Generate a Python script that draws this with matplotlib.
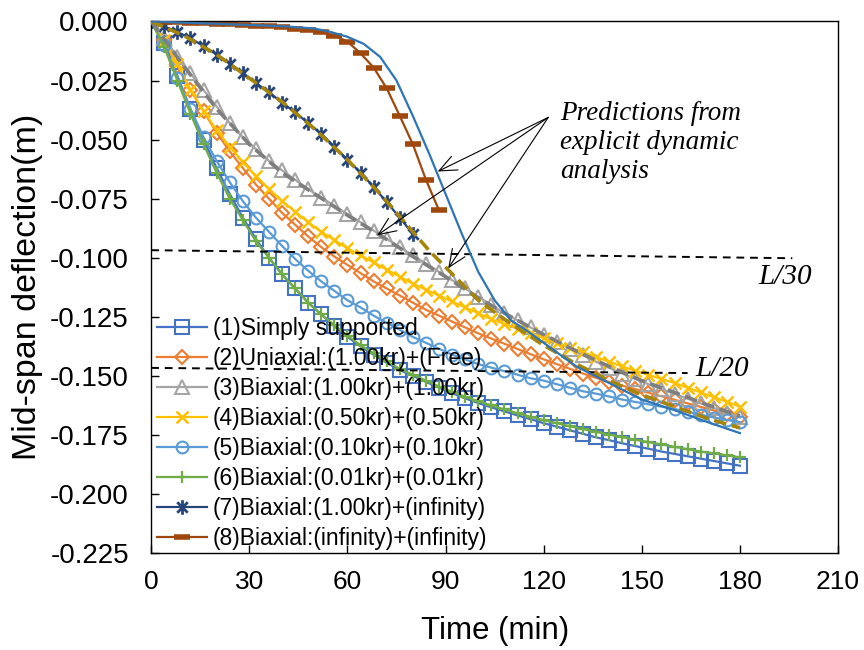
import matplotlib
matplotlib.use("Agg")
import matplotlib.pyplot as plt
from matplotlib.path import Path
from matplotlib.ticker import FormatStrFormatter

plt.rcParams['font.family'] = ['Liberation Sans', 'DejaVu Sans']
plt.rcParams['axes.unicode_minus'] = False

# ---- data -------------------------------------------------------------
TIME = [0, 4, 8, 12, 16, 20, 24, 28, 32, 36, 40, 44, 48, 52, 56, 60, 64, 68,
        72, 76, 80, 84, 88, 92, 96, 100, 104, 108, 112, 116, 120, 124, 128,
        132, 136, 140, 144, 148, 152, 156, 160, 164, 168, 172, 176, 180]

simply_supported = [0, -0.009, -0.023, -0.037, -0.050, -0.062, -0.073, -0.083, -0.092, -0.100,
                    -0.107, -0.113, -0.119, -0.124, -0.129, -0.1335, -0.1375, -0.141, -0.1445,
                    -0.1475, -0.150, -0.1525, -0.155, -0.1573, -0.1595, -0.1615, -0.1633, -0.165,
                    -0.1667, -0.1683, -0.170, -0.1715, -0.173, -0.1745, -0.176, -0.1772, -0.1785,
                    -0.1797, -0.1808, -0.182, -0.183, -0.184, -0.185, -0.186, -0.187, -0.188]

uniaxial_1 = [0, -0.008, -0.019, -0.029, -0.038, -0.047, -0.055, -0.062, -0.069, -0.075,
              -0.081, -0.086, -0.091, -0.0955, -0.0995, -0.103, -0.1065, -0.110, -0.113,
              -0.116, -0.119, -0.122, -0.1245, -0.127, -0.1295, -0.132, -0.1342, -0.1364,
              -0.1386, -0.1408, -0.143, -0.145, -0.147, -0.149, -0.1508, -0.1526, -0.1541,
              -0.1556, -0.1571, -0.1586, -0.1601, -0.1616, -0.1631, -0.1646, -0.1661, -0.1675]

biaxial_100 = [0, -0.007, -0.015, -0.022, -0.029, -0.036, -0.043, -0.049, -0.054, -0.059,
               -0.063, -0.067, -0.071, -0.0745, -0.078, -0.0815, -0.085, -0.0885, -0.092,
               -0.0955, -0.099, -0.1025, -0.106, -0.1095, -0.113, -0.1165, -0.120, -0.1235,
               -0.1265, -0.1295, -0.1325, -0.1355, -0.1385, -0.1413, -0.144, -0.1466, -0.149,
               -0.1513, -0.1535, -0.1556, -0.1576, -0.1596, -0.1616, -0.1636, -0.1656, -0.1675]

biaxial_050 = [0, -0.008, -0.018, -0.029, -0.038, -0.046, -0.053, -0.0595, -0.0655, -0.071,
               -0.076, -0.0805, -0.085, -0.089, -0.0925, -0.096, -0.099, -0.102, -0.105,
               -0.108, -0.111, -0.1135, -0.116, -0.1185, -0.121, -0.1235, -0.126, -0.128,
               -0.130, -0.132, -0.134, -0.136, -0.138, -0.140, -0.142, -0.144, -0.146,
               -0.1478, -0.1496, -0.1513, -0.153, -0.155, -0.157, -0.159, -0.161, -0.163]

biaxial_010 = [0, -0.010, -0.024, -0.037, -0.049, -0.059, -0.068, -0.076, -0.083, -0.089,
               -0.095, -0.1005, -0.1055, -0.110, -0.114, -0.118, -0.121, -0.1245, -0.1275,
               -0.1305, -0.1335, -0.136, -0.1385, -0.141, -0.143, -0.145, -0.1465, -0.148,
               -0.1495, -0.151, -0.152, -0.1535, -0.155, -0.1565, -0.1575, -0.1587, -0.160,
               -0.161, -0.162, -0.163, -0.164, -0.1652, -0.1664, -0.1676, -0.1686, -0.1696]

biaxial_001 = [0, -0.011, -0.025, -0.039, -0.052, -0.064, -0.075, -0.084, -0.093, -0.100,
               -0.107, -0.113, -0.119, -0.124, -0.1285, -0.133, -0.137, -0.1405, -0.1438,
               -0.147, -0.1495, -0.152, -0.1545, -0.1567, -0.1588, -0.1607, -0.1625, -0.1642,
               -0.1658, -0.1673, -0.1687, -0.170, -0.1713, -0.1725, -0.1737, -0.1748, -0.1759,
               -0.177, -0.178, -0.179, -0.180, -0.181, -0.182, -0.1828, -0.1836, -0.1845]

TIME_7 = [0, 4, 8, 12, 16, 20, 24, 28, 32, 36, 40, 44, 48, 52, 56, 60, 64, 68, 72, 76, 80]
biaxial_100_inf = [0, -0.002, -0.0045, -0.007, -0.0105, -0.014, -0.0178, -0.0218, -0.026,
                   -0.030, -0.0343, -0.0385, -0.043, -0.0476, -0.053, -0.0585, -0.064, -0.070,
                   -0.0765, -0.083, -0.090]

TIME_8 = [0, 4, 8, 12, 16, 20, 24, 28, 32, 36, 40, 44, 48, 52, 56, 60, 64, 68, 72, 76,
          80, 84, 88]
biaxial_inf_inf = [0, -0.0002, -0.0004, -0.0006, -0.0008, -0.001, -0.0012, -0.0015, -0.0018,
                   -0.0021, -0.0025, -0.003, -0.0036, -0.0045, -0.006, -0.0085, -0.0135,
                   -0.0195, -0.0283, -0.040, -0.052, -0.067, -0.080]

# explicit dynamic analysis results
TIME_ED_INF = [0, 10, 20, 30, 40, 50, 55, 60, 65, 70, 75, 80, 85, 90, 95, 100, 105, 110,
               115, 120, 130, 140, 150, 160, 170, 180]
ed_inf_inf = [0, -0.0005, -0.001, -0.0015, -0.002, -0.003, -0.0045, -0.0065, -0.0095, -0.015,
              -0.025, -0.040, -0.056, -0.073, -0.090, -0.106, -0.118, -0.1265, -0.131, -0.136,
              -0.146, -0.153, -0.160, -0.1645, -0.1695, -0.1742]

TIME_ED_100 = [0, 10, 20, 30, 40, 50, 60, 70, 80, 90, 100, 110, 120, 130, 140, 150, 160, 170, 180]
ed_100_100 = [0, -0.019, -0.037, -0.052, -0.064, -0.073, -0.082, -0.0905, -0.0995, -0.108,
              -0.117, -0.125, -0.1325, -0.1395, -0.146, -0.152, -0.157, -0.1622, -0.167]

TIME_ED_7 = [0, 10, 20, 30, 40, 50, 60, 70, 80, 85, 90, 95, 100, 110, 120, 130, 140, 150,
             160, 170, 180]
ed_100_inf = [0, -0.006, -0.014, -0.024, -0.034, -0.0455, -0.0585, -0.073, -0.089, -0.097,
              -0.104, -0.111, -0.118, -0.128, -0.137, -0.145, -0.152, -0.158, -0.163, -0.168,
              -0.172]

LABELS = ["(1)Simply supported",
          "(2)Uniaxial:(1.00kr)+(Free)",
          "(3)Biaxial:(1.00kr)+(1.00kr)",
          "(4)Biaxial:(0.50kr)+(0.50kr)",
          "(5)Biaxial:(0.10kr)+(0.10kr)",
          "(6)Biaxial:(0.01kr)+(0.01kr)",
          "(7)Biaxial:(1.00kr)+(infinity)",
          "(8)Biaxial:(infinity)+(infinity)"]

X_TICKS = [0, 30, 60, 90, 120, 150, 180, 210]
Y_TICKS = [0.0, -0.025, -0.05, -0.075, -0.1, -0.125, -0.15, -0.175, -0.2, -0.225]

# deflection limits (span/30 and span/20)
L30_X = [0, 196]
L30_Y = [-0.0968, -0.1002]
L20_X = [0, 164]
L20_Y = [-0.1466, -0.1488]

# ---- figure -----------------------------------------------------------
fig = plt.figure(figsize=(8.64, 6.5), dpi=100)
ax = fig.add_axes([0.175, 0.149, 0.795, 0.818])

star = Path([(0, -1), (0, 1), (-0.72, -0.72), (0.72, 0.72), (-0.72, 0.72), (0.72, -0.72)],
            [Path.MOVETO, Path.LINETO] * 3)

lw = 1.6
ax.plot(TIME, simply_supported, color='#4472C4', lw=lw, marker='s', ms=9.5,
        mfc='none', mec='#4472C4', mew=1.5, label=LABELS[0])
ax.plot(TIME, uniaxial_1, color='#ED7D31', lw=lw, marker='D', ms=7,
        mfc='none', mec='#ED7D31', mew=1.5, label=LABELS[1])
ax.plot(TIME, biaxial_100, color='#A5A5A5', lw=lw, marker='^', ms=9.5,
        mfc='none', mec='#A5A5A5', mew=1.5, label=LABELS[2])
ax.plot(TIME, biaxial_050, color='#FFC000', lw=lw, marker='x', ms=9,
        mec='#FFC000', mew=1.8, label=LABELS[3])
ax.plot(TIME, biaxial_010, color='#5B9BD5', lw=lw, marker='o', ms=8.5,
        mfc='none', mec='#5B9BD5', mew=1.5, label=LABELS[4])
ax.plot(TIME, biaxial_001, color='#70AD47', lw=lw, marker='+', ms=9,
        mec='#70AD47', mew=1.6, label=LABELS[5])
ax.plot(TIME_7, biaxial_100_inf, color='#264478', lw=lw, marker=star, ms=10.5,
        mec='#264478', mew=2.0, label=LABELS[6])
ax.plot(TIME_8, biaxial_inf_inf, color='#9E480E', lw=lw, marker='_', ms=11,
        mec='#9E480E', mew=4.0, label=LABELS[7])

ax.plot(TIME_ED_100, ed_100_100, color='#7F7F7F', lw=2.6, ls=(0, (3.5, 1.6)), zorder=3)
ax.plot(TIME_ED_7, ed_100_inf, color='#A5850A', lw=2.6, ls=(0, (3.5, 1.6)), zorder=3)
ax.plot(TIME_ED_INF, ed_inf_inf, color='#2E75B6', lw=1.6, zorder=3)

ax.plot(L30_X, L30_Y, color='black', lw=1.4, ls=(0, (4, 3)), clip_on=False)
ax.plot(L20_X, L20_Y, color='black', lw=1.4, ls=(0, (4, 3)), clip_on=False)

serif = ['Liberation Serif', 'DejaVu Serif']
ax.text(185.5, -0.1083, "L/30", family=serif, style='italic', fontsize=21,
        ha='left', va='center')
ax.text(166.5, -0.1470, "L/20", family=serif, style='italic', fontsize=21,
        ha='left', va='center')

ax.text(125, -0.0338, "Predictions from\nexplicit dynamic\nanalysis", family=serif,
        style='italic', fontsize=19.5, ha='left', va='top', linespacing=1.2)

tail = (121.4, -0.0406)
for head in [(87.6, -0.0635), (69.1, -0.0905), (90.8, -0.1045)]:
    ax.annotate("", xy=head, xytext=tail,
                arrowprops=dict(arrowstyle='->,head_length=0.7,head_width=0.3',
                                color='black', lw=0.8, mutation_scale=18,
                                shrinkA=0, shrinkB=0))

ax.set_xlim(0, 210)
ax.set_ylim(-0.225, 0.0)
ax.set_xticks(X_TICKS)
ax.set_yticks(Y_TICKS)
ax.yaxis.set_major_formatter(FormatStrFormatter('%.3f'))
ax.tick_params(axis='both', direction='in', length=6, width=1, labelsize=19,
               top=False, right=False)
ax.tick_params(axis='y', pad=16, labelsize=20)
ax.tick_params(axis='x', pad=12)
for s in ax.spines.values():
    s.set_color('black')
    s.set_linewidth(1.0)

ax.set_xlabel("Time (min)", fontsize=22.5, labelpad=16)
ax.set_ylabel("Mid-span deflection(m)", fontsize=24.5, labelpad=5)

ax.legend(loc='lower left', bbox_to_anchor=(-0.005, -0.012), frameon=False,
          fontsize=16.5, labelspacing=0.31, handlelength=2.2, handletextpad=0.25,
          borderaxespad=0.2, borderpad=0.2)

fig.savefig("out.png", dpi=100)
